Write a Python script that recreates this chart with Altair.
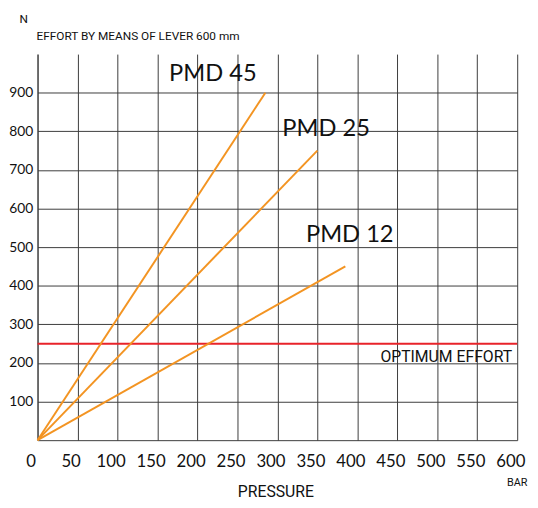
import altair as alt
import pandas as pd

series = ["PMD 45", "PMD 25", "PMD 12"]
end_pressure = [285, 350, 385]
end_effort = [900, 750, 450]
optimum_effort = 250
x_ticks = list(range(0, 601, 50))
y_ticks = list(range(100, 901, 100))

ORANGE = "#F39422"
RED = "#E8232A"
GRID = "#3c3c3c"
INK = "#111111"
NUM_FONT = "Lato"
TXT_FONT = "Roboto"

rows = []
for name, p, e in zip(series, end_pressure, end_effort):
    rows.append({"series": name, "pressure": 0, "effort": 0})
    rows.append({"series": name, "pressure": p, "effort": e})
lines_df = pd.DataFrame(rows)

x_scale = alt.Scale(domain=[0, 600], nice=False)
y_scale = alt.Scale(domain=[0, 1000], nice=False)

lines = (
    alt.Chart(lines_df)
    .mark_line(color=ORANGE, strokeWidth=2)
    .encode(
        x=alt.X(
            "pressure:Q",
            scale=x_scale,
            title=None,
            axis=alt.Axis(
                values=x_ticks,
                grid=True,
                gridColor=GRID,
                gridOpacity=1,
                domainColor=GRID,
                ticks=False,
                labelFont=NUM_FONT,
                labelFontSize=17,
                labelColor=INK,
                labelPadding=14,
                labelOffset=-7,
                labelFlush=False,
                labelOverlap=False,
            ),
        ),
        y=alt.Y(
            "effort:Q",
            scale=y_scale,
            title=None,
            axis=alt.Axis(
                values=y_ticks,
                grid=True,
                gridColor=GRID,
                gridOpacity=1,
                domainColor=GRID,
                ticks=False,
                labelFont=NUM_FONT,
                labelFontSize=14,
                labelColor=INK,
                labelPadding=5,
                labelOverlap=False,
            ),
        ),
        detail="series:N",
    )
)

optimum = (
    alt.Chart(pd.DataFrame({"effort": [optimum_effort]}))
    .mark_rule(color=RED, strokeWidth=2)
    .encode(y=alt.Y("effort:Q", scale=y_scale))
)


def note(text, x, y, size, font=TXT_FONT, align="center"):
    return (
        alt.Chart(pd.DataFrame({"t": [text]}))
        .mark_text(font=font, fontSize=size, color=INK, align=align, baseline="middle")
        .encode(text="t:N", x=alt.value(x), y=alt.value(y))
    )


notes = [
    note("N", -14, -36, 12),
    note("EFFORT BY MEANS OF LEVER 600 mm", -1, -18, 12, align="left"),
    note("PMD 45", 178, 20, 24, font=NUM_FONT),
    note("PMD 25", 293, 76, 24, font=NUM_FONT),
    note("PMD 12", 317, 184, 24, font=NUM_FONT),
    note("OPTIMUM EFFORT", 415, 308, 16),
    note("PRESSURE", 242, 445, 16),
    note("BAR", 487, 436, 11),
]

chart = (
    alt.layer(optimum, lines, *notes)
    .properties(
        width=487,
        height=392,
        autosize=alt.AutoSizeParams(type="none"),
        padding={"left": 30, "top": 43, "right": 13, "bottom": 60},
    )
    .configure_view(stroke=None)
)

chart.save("out.html", embed_options={"renderer": "svg", "actions": False})
